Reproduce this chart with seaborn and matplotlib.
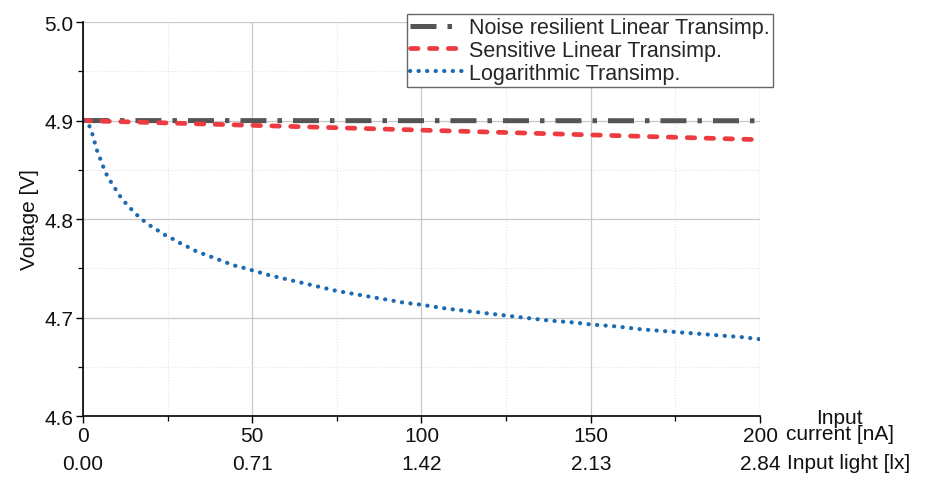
import matplotlib
matplotlib.use("Agg")
import matplotlib.pyplot as plt
import seaborn as sns
import pandas as pd
from matplotlib.ticker import MultipleLocator, FixedLocator

# ---- data ----
current_ticks = [0, 50, 100, 150, 200]
light_labels = ["0.00", "0.71", "1.42", "2.13", "2.84"]

noise_x = [0, 200]
noise_v = [4.900, 4.8998]

sens_x = [0, 200]
sens_v = [4.900, 4.8806]

log_x = [0, 2, 3, 4, 5, 6, 7, 8.2, 9.5, 11, 12.4, 14, 16, 18, 20, 22.3, 24.6, 27, 29,
         31.4, 33.6, 36, 38.4, 40.7, 43, 45.5, 48, 50, 55, 60, 65, 70, 75, 80, 85, 90,
         95, 100, 107.5, 115, 122.5, 130, 137.5, 145, 150, 157.5, 165, 172.5, 180,
         187.5, 195, 200]
log_v = [4.900, 4.894, 4.884, 4.871, 4.862, 4.853, 4.845, 4.838, 4.831, 4.823, 4.817,
         4.811, 4.804, 4.798, 4.793, 4.788, 4.783, 4.779, 4.775, 4.771, 4.767, 4.764,
         4.761, 4.758, 4.755, 4.752, 4.750, 4.748, 4.743, 4.739, 4.735, 4.731, 4.727,
         4.724, 4.721, 4.718, 4.715, 4.713, 4.709, 4.706, 4.703, 4.700, 4.697, 4.695,
         4.693, 4.691, 4.688, 4.686, 4.684, 4.682, 4.680, 4.678]

labels = ["Noise resilient Linear Transimp.", "Sensitive Linear Transimp.",
          "Logarithmic Transimp."]
colors = ["#555555", "#EE3B3F", "#1C6AB1"]

sns.set_theme(style="ticks")
plt.rcParams['font.family'] = ['Liberation Sans', 'DejaVu Sans']

fig = plt.figure(figsize=(9.28, 4.81), dpi=100)
ax = fig.add_axes([0.0894, 0.133, 0.7296, 0.819])

# grid
ax.set_axisbelow(True)
ax.grid(which="major", color="#c8c8c8", linewidth=0.9, linestyle="-")
ax.grid(which="minor", color="#e4e4e4", linewidth=0.8, linestyle=":")

df_noise = pd.DataFrame({"x": noise_x, "v": noise_v})
df_sens = pd.DataFrame({"x": sens_x, "v": sens_v})
df_log = pd.DataFrame({"x": log_x, "v": log_v})

sns.lineplot(data=df_noise, x="x", y="v", ax=ax, color=colors[0], lw=3.6,
             linestyle=(0, (5.2, 2.2, 0.9, 2.2)), label=labels[0],
             dash_capstyle="butt")
sns.lineplot(data=df_sens, x="x", y="v", ax=ax, color=colors[1], lw=3.4,
             linestyle=(0, (1.6, 2.4)), label=labels[1],
             dash_capstyle="round")
sns.lineplot(data=df_log, x="x", y="v", ax=ax, color=colors[2], lw=3.0,
             linestyle=(0, (0.05, 2.0)), label=labels[2],
             dash_capstyle="round")

ax.set_xlim(0, 200)
ax.set_ylim(4.6, 5.0)
ax.xaxis.set_major_locator(FixedLocator(current_ticks))
ax.xaxis.set_minor_locator(MultipleLocator(25))
ax.yaxis.set_major_locator(MultipleLocator(0.1))
ax.yaxis.set_minor_locator(MultipleLocator(0.05))
ax.yaxis.set_major_formatter(matplotlib.ticker.FormatStrFormatter("%.1f"))

for s in ["top", "right"]:
    ax.spines[s].set_visible(False)
for s in ["left", "bottom"]:
    ax.spines[s].set_color("black")
    ax.spines[s].set_linewidth(1.2)

FS = 15
ax.tick_params(which="major", direction="out", length=5, width=1.0,
               labelsize=FS, color="black", labelcolor="#111111", pad=2)
ax.tick_params(which="minor", direction="out", length=3.5, width=0.9, color="black")

ax.set_xlabel("")
ax.set_ylabel("Voltage [V]", fontsize=FS, labelpad=4, color="#111111")

# secondary x axis: light
sec = ax.secondary_xaxis(-0.097)
sec.xaxis.set_major_locator(FixedLocator(current_ticks))
sec.set_xticklabels(light_labels)
sec.tick_params(length=0, labelsize=FS, labelcolor="#111111", pad=0)
sec.spines["bottom"].set_visible(False)

# axis titles on the right
ax.text(1.118, -0.024, "Input\ncurrent [nA]", transform=ax.transAxes, fontsize=FS,
        ha="center", va="center", multialignment="center", linespacing=0.82,
        color="#111111")
ax.text(1.040, -0.118, "Input light [lx]", transform=ax.transAxes, fontsize=FS,
        ha="left", va="center", color="#111111")

leg = ax.legend(loc="upper left", bbox_to_anchor=(0.4386, 0.969),
                bbox_transform=fig.transFigure, fontsize=15.5, frameon=True,
                fancybox=False, edgecolor="#666666", framealpha=1,
                handlelength=2.4, handletextpad=0.35, labelspacing=0.08,
                borderpad=0.15, borderaxespad=0)
leg.get_frame().set_linewidth(1.0)

fig.savefig("out.png", dpi=100)
